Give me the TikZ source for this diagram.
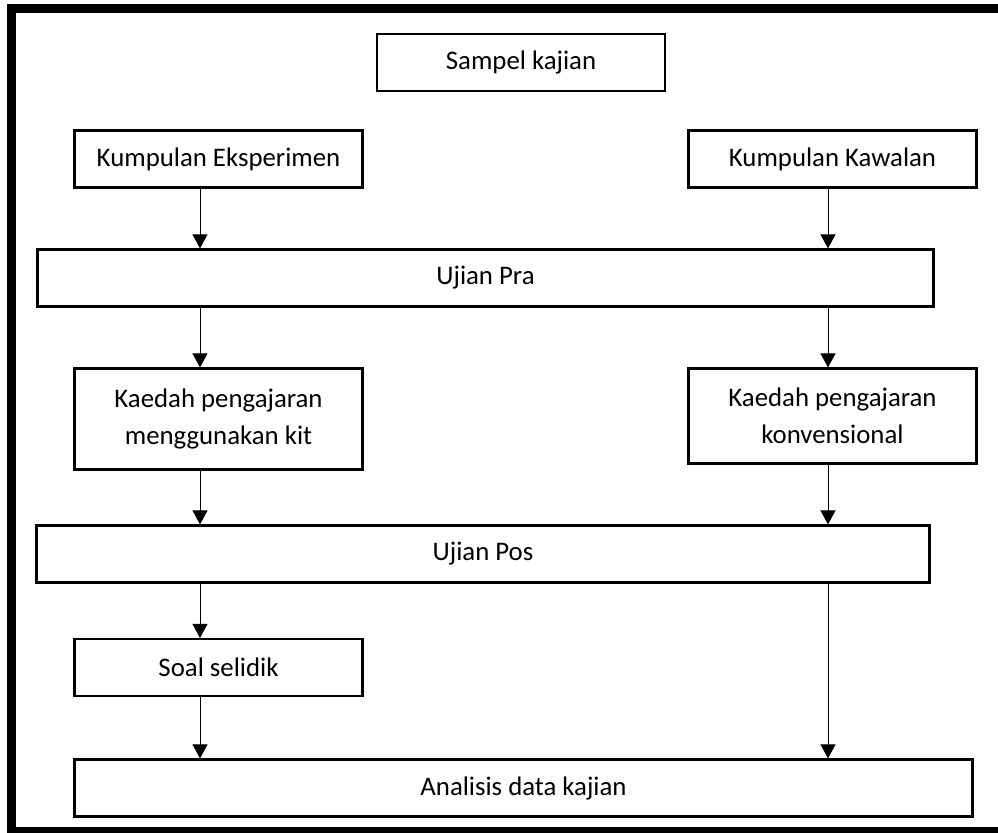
\documentclass[tikz,border=0pt]{standalone}
\usepackage{fontspec}
\setmainfont{Carlito}
\usetikzlibrary{arrows.meta,positioning}

\begin{document}
\begin{tikzpicture}[
  x=0.5pt, y=-0.5pt,
  font=\fontsize{13.4}{18.5}\selectfont,
  >={Triangle[width=7.5pt,length=7pt]},
  box/.style={draw, line width=1.1pt, align=center, inner sep=0pt, minimum width=144pt, minimum height=28.5pt},
  wide/.style={box, minimum width=448pt},
  arr/.style={->, line width=0.5pt},
  frame/.style={draw, line width=4.25pt}
]
  \useasboundingbox (0,0) rectangle (998,833);
  \draw[frame] (1020,8.5) -- (11.5,8.5) -- (11.5,831) -- (1020,831);

  \coordinate (colL) at (200,0);
  \coordinate (colR) at (828,0);

  \node[box] (sampel) at (521,62.5) {Sampel kajian};
  \node[box] (eksp) at (218.5,159) {Kumpulan Eksperimen};
  \node[box] (kawal) at (832.5,159) {Kumpulan Kawalan};
  \node[wide] (pra) at (485.5,278) {Ujian Pra};
  \node[box, minimum height=50.5pt] (kit) at (218.5,419) {Kaedah pengajaran\\menggunakan kit};
  \node[box, minimum height=47.5pt] (konv) at (832.5,416) {Kaedah pengajaran\\konvensional};
  \node[wide, minimum width=446.5pt] (pos) at (483,554) {Ujian Pos};
  \node[box] (soal) at (218.5,667.5) {Soal selidik};
  \node[wide, minimum width=449pt] (analisis) at (523.5,788) {Analisis data kajian};

  \draw[arr] (eksp.south -| colL) -- (pra.north -| colL);
  \draw[arr] (kawal.south -| colR) -- (pra.north -| colR);
  \draw[arr] (pra.south -| colL) -- (kit.north -| colL);
  \draw[arr] (pra.south -| colR) -- (konv.north -| colR);
  \draw[arr] (kit.south -| colL) -- (pos.north -| colL);
  \draw[arr] (konv.south -| colR) -- (pos.north -| colR);
  \draw[arr] (pos.south -| colL) -- (soal.north -| colL);
  \draw[arr] (soal.south -| colL) -- (analisis.north -| colL);
  \draw[arr] (pos.south -| colR) -- (analisis.north -| colR);
\end{tikzpicture}
\end{document}
